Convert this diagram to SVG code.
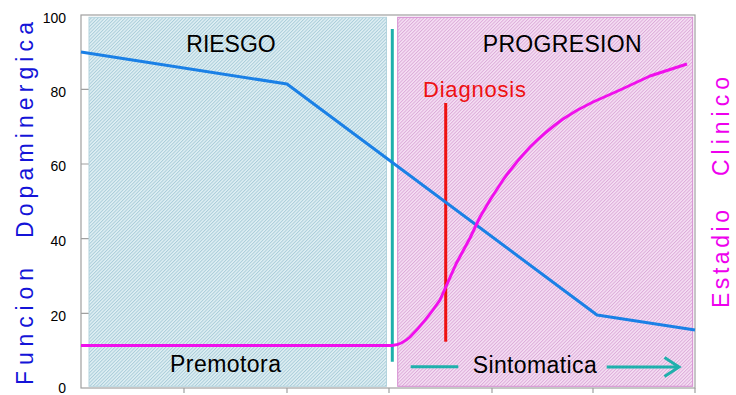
<svg xmlns="http://www.w3.org/2000/svg" width="736" height="395" viewBox="0 0 736 395">
<style>
.lbl{font-family:"Liberation Sans",Arial,sans-serif;fill:#000}
.tick{font-family:"Liberation Sans",Arial,sans-serif;font-size:14px;fill:#000;text-anchor:end}
.frame{stroke:#a0a0a0;stroke-width:1.2;fill:none}
.teal{stroke:#1fb0ac;stroke-width:3;fill:none}
</style>
<defs>
<pattern id="hb" width="2.4" height="2.4" patternUnits="userSpaceOnUse" patternTransform="rotate(45)">
<rect width="2.4" height="2.4" fill="#e0f0f4"/>
<line x1="0.5" y1="0" x2="0.5" y2="2.4" stroke="#a6cad8" stroke-width="0.9"/>
</pattern>
<pattern id="hp" width="2.4" height="2.4" patternUnits="userSpaceOnUse" patternTransform="rotate(45)">
<rect width="2.4" height="2.4" fill="#f6e0f4"/>
<line x1="0.5" y1="0" x2="0.5" y2="2.4" stroke="#dba8d8" stroke-width="0.9"/>
</pattern>
</defs>
<rect width="736" height="395" fill="#fff"/>
<g id="frame">
<rect class="frame" x="81" y="15" width="614" height="373"/>
<path class="frame" d="M81,89.3H89M81,164H89M81,238.6H89M81,313.3H89M184,388V393M287,388V393M389,388V393M492,388V393M593,388V393M695,388V393"/>
</g>
<g id="axis-labels">
<text class="tick" x="66" y="22.7">100</text>
<text class="tick" x="66" y="96.7">80</text>
<text class="tick" x="66" y="171.3">60</text>
<text class="tick" x="66" y="246">40</text>
<text class="tick" x="66" y="320.7">20</text>
<text class="tick" x="66" y="392.5">0</text>
<g fill="#1414d8" font-family="'Liberation Sans',Arial,sans-serif" font-size="23">
<text transform="translate(33,385) rotate(-90)" textLength="117" lengthAdjust="spacing">Funcion</text>
<text transform="translate(33,238) rotate(-90)" textLength="216" lengthAdjust="spacing">Dopaminergica</text>
</g>
<g fill="#ee00ee" font-family="'Liberation Sans',Arial,sans-serif" font-size="23">
<text transform="translate(729,308) rotate(-90)" textLength="98" lengthAdjust="spacing">Estadio</text>
<text transform="translate(729,176) rotate(-90)" textLength="99" lengthAdjust="spacing">Clinico</text>
</g>
</g>
<g id="riesgo">
<rect x="89" y="17.3" width="297.5" height="369" fill="url(#hb)" stroke="#b4d4de" stroke-width="1"/>
<text class="lbl" x="231" y="51.7" font-size="23" text-anchor="middle">RIESGO</text>
<text class="lbl" x="170" y="372" font-size="23" textLength="111" lengthAdjust="spacing">Premotora</text>
</g>
<g id="progresion">
<rect x="397.7" y="17.3" width="295" height="369" fill="url(#hp)" stroke="#d48ad0" stroke-width="1"/>
<text class="lbl" x="482.7" y="51.7" font-size="23" textLength="159" lengthAdjust="spacing">PROGRESION</text>
<text class="lbl" x="472.7" y="372.7" font-size="23" textLength="124" lengthAdjust="spacing">Sintomatica</text>
</g>
<g id="diagnosis">
<line x1="445.7" y1="103" x2="445.7" y2="341.7" stroke="#ee1111" stroke-width="3"/>
<text x="423" y="96.7" font-family="'Liberation Sans',Arial,sans-serif" font-size="22" fill="#ee1111" textLength="103" lengthAdjust="spacing">Diagnosis</text>
</g>
<g id="connectors">
<line class="teal" x1="392.3" y1="29" x2="392.3" y2="361.7"/>
<line class="teal" x1="410.7" y1="366.7" x2="458.3" y2="366.7"/>
<line class="teal" x1="606.7" y1="367" x2="678" y2="367"/>
<polyline class="teal" points="664.5,357.5 679,367 664.5,376.5"/>
<path d="M81,52 L287,84 L597,315 L695,330" fill="none" stroke="#1a80e6" stroke-width="3" stroke-linejoin="round"/>
<path d="M81,345.5 L392,345.5 Q402,344.5 410,337 Q425,322 440,300 L456,264 L470,238 L480,217 L490,200 L503,180 Q515,163 530,147 Q545,132 563,119 Q578,109 593,102 L620,90 L650,76 L687,64" fill="none" stroke="#f010ec" stroke-width="3" stroke-linejoin="round"/>
</g>
</svg>
